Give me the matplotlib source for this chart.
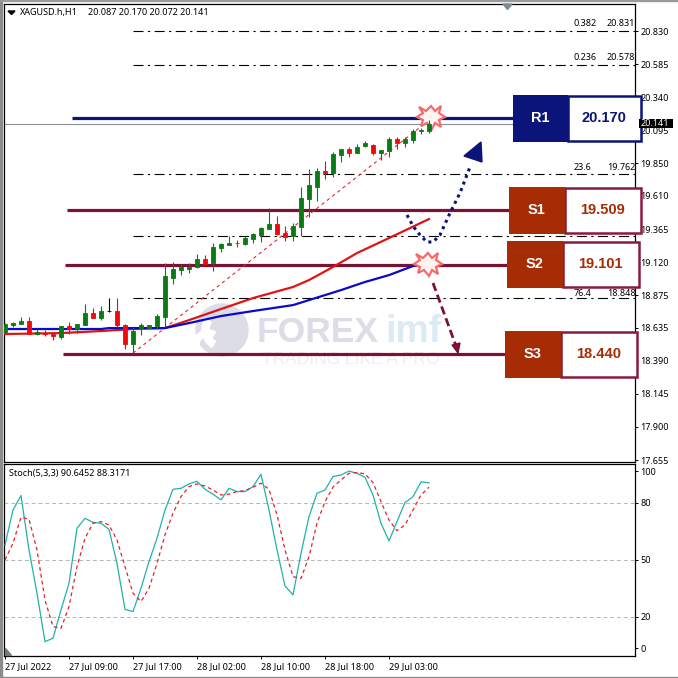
import matplotlib
matplotlib.use('Agg')
import matplotlib.pyplot as plt
from matplotlib.patches import Polygon, Rectangle, Circle, Wedge

plt.rcParams['font.family'] = ['Noto Sans', 'DejaVu Sans']

# hourly candles, one row per bar
opens = [18.603, 18.655, 18.662, 18.685, 18.588, 18.595, 18.588, 18.566, 18.648, 18.625,
         18.655, 18.744, 18.707, 18.759, 18.759, 18.655, 18.514, 18.633, 18.633, 18.648,
         18.713, 19.003, 19.062, 19.070, 19.085, 19.144, 19.114, 19.225, 19.247, 19.262,
         19.255, 19.292, 19.322, 19.366, 19.403, 19.336, 19.314, 19.379, 19.587, 19.677,
         19.796, 19.781, 19.913, 19.957, 19.928, 19.980, 19.987, 19.928, 19.943, 20.032,
         20.002, 20.024, 20.091, 20.087]
highs = [18.670, 18.677, 18.714, 18.714, 18.625, 18.618, 18.595, 18.648, 18.677, 18.662,
         18.811, 18.782, 18.796, 18.856, 18.856, 18.662, 18.640, 18.670, 18.655, 18.737,
         19.114, 19.122, 19.107, 19.114, 19.181, 19.174, 19.263, 19.262, 19.314, 19.284,
         19.314, 19.336, 19.381, 19.522, 19.463, 19.389, 19.411, 19.677, 19.811, 19.818,
         19.870, 19.937, 19.957, 19.972, 19.995, 20.017, 19.995, 19.950, 20.047, 20.047,
         20.047, 20.106, 20.114, 20.170]
lows = [18.595, 18.640, 18.662, 18.588, 18.580, 18.573, 18.543, 18.551, 18.588, 18.595,
        18.655, 18.707, 18.692, 18.752, 18.640, 18.476, 18.447, 18.580, 18.625, 18.625,
        18.638, 18.958, 19.025, 19.040, 19.077, 19.107, 19.055, 19.195, 19.247, 19.232,
        19.247, 19.262, 19.269, 19.366, 19.322, 19.277, 19.277, 19.312, 19.453, 19.572,
        19.736, 19.751, 19.861, 19.898, 19.928, 19.972, 19.913, 19.876, 19.898, 19.957,
        19.972, 20.002, 20.069, 20.072]
closes = [18.662, 18.670, 18.685, 18.588, 18.603, 18.588, 18.573, 18.648, 18.625, 18.662,
          18.744, 18.707, 18.759, 18.759, 18.655, 18.514, 18.610, 18.655, 18.655, 18.722,
          19.017, 19.070, 19.085, 19.085, 19.144, 19.107, 19.233, 19.255, 19.262, 19.259,
          19.299, 19.329, 19.374, 19.403, 19.329, 19.307, 19.389, 19.595, 19.692, 19.796,
          19.781, 19.922, 19.957, 19.928, 19.972, 20.002, 19.928, 19.950, 20.032, 20.002,
          20.032, 20.091, 20.099, 20.141]

# moving averages, read at the bars where they bend
blue_bars = [0, 12, 13, 20, 23, 27, 31, 36, 38, 42, 45, 48, 51]
blue_ma = [18.625, 18.625, 18.632, 18.632, 18.669, 18.721, 18.758, 18.802, 18.839, 18.913,
           18.973, 19.024, 19.091]
red_bars = [0, 7, 12, 16, 20, 23, 27, 31, 36, 38, 41, 44, 48, 53]
red_ma = [18.588, 18.595, 18.610, 18.625, 18.632, 18.691, 18.773, 18.854, 18.936, 18.987,
          19.084, 19.187, 19.298, 19.439]

# stochastic
stoch_main = [57.9, 76.3, 83.9, 55.3, 32.5, 7.0, 8.8, 23.7, 37.7, 66.7, 71.9, 69.8, 69.3, 66.1,
              48.2, 24.0, 22.8, 35.1, 49.1, 61.4, 76.3, 87.2, 87.7, 90.0, 91.4, 87.2, 84.6, 81.6,
              87.7, 86.0, 86.0, 88.6, 95.1, 76.3, 55.3, 36.3, 31.6, 53.5, 72.8, 85.1, 86.8, 93.9,
              94.7, 96.8, 95.6, 93.5, 84.2, 69.3, 60.0, 70.2, 80.2, 83.3, 91.1, 90.6]
stoch_signal = [50.0, 58.8, 72.5, 71.4, 55.3, 28.9, 14.9, 14.0, 25.4, 46.5, 61.4, 69.3, 70.2, 68.4,
                60.5, 46.5, 32.5, 28.1, 35.1, 48.2, 63.2, 74.6, 83.3, 88.6, 90.0, 88.9, 86.8, 84.2,
                84.6, 86.0, 86.5, 88.3, 90.4, 87.2, 73.7, 55.3, 41.2, 40.3, 51.7, 69.3, 80.7, 88.3,
                92.1, 95.6, 96.0, 95.3, 90.7, 80.7, 71.0, 65.4, 68.4, 76.3, 84.2, 88.3]

price_ticks = [20.830, 20.585, 20.340, 20.095, 19.850, 19.610, 19.365, 19.120, 18.875, 18.635,
               18.390, 18.145, 17.900, 17.655]
date_bars = [0, 8, 16, 24, 32, 40, 48]
date_labels = ['27 Jul 2022', '27 Jul 09:00', '27 Jul 17:00', '28 Jul 02:00', '28 Jul 10:00',
               '28 Jul 18:00', '29 Jul 03:00']

fib_levels = [20.831, 20.578, 19.772, 19.313, 18.854]
level_names = ['R1', 'S1', 'S2', 'S3']
level_values = ['20.170', '19.509', '19.101', '18.440']
level_lines = [20.186, 19.505, 19.100, 18.440]
level_starts = [8.4, 7.8, 7.5, 7.3]

NAVY = '#0b1478'
MAROON = '#7b1233'
BROWN = '#a52c05'
GREEN = '#0a7a14'


def px_box(left, top, right, bottom):
    # axes rectangle from pixel edges of the 678 px image
    return [left / 678, 1 - bottom / 678, (right - left) / 678, (bottom - top) / 678]


fig = plt.figure(figsize=(6.78, 6.78), dpi=100)
ax = fig.add_axes(px_box(4, 4, 635, 462))
ax2 = fig.add_axes(px_box(4, 464, 635, 655.5))
ov = fig.add_axes([0, 0, 1, 1], zorder=10)
ov.set_xlim(0, 678)
ov.set_ylim(678, 0)
ov.axis('off')
ov.patch.set_alpha(0)

# bars are 8 px apart, first one 1 px right of the spine
xlim = (-1 / 8, 630 / 8)
ax.set_xlim(xlim)
ax.set_ylim(17.641, 21.030)
ax2.set_xlim(xlim)
ax2.set_ylim(-0.3, 100.5)

# watermark, sits under everything
ax.add_patch(Circle((222, 330), 26, color='#dcdde6', transform=ov.transData, zorder=1))
ax.add_patch(Wedge((222, 330), 20, 120, 215, width=7, color='white', transform=ov.transData, zorder=1))
ax.add_patch(Wedge((208, 345), 15, 180, 300, width=6, color='white', transform=ov.transData, zorder=1))
ax.text(257, 332, 'FOREX', transform=ov.transData, family='Liberation Sans', weight='bold',
        fontsize=25.5, color='#dcdde6', va='center', ha='left', zorder=1)
ax.text(385, 332, 'imf', transform=ov.transData, family='Liberation Sans', weight='bold',
        fontsize=27, color='#dbeaf3', va='center', ha='left', zorder=1)
ax.text(262, 359, 'TRADING LIKE A PRO', transform=ov.transData, family='Liberation Sans',
        fontsize=12.5, color='#eeeef2', va='center', ha='left', zorder=1)

# fibonacci levels
ax.hlines(fib_levels, 16, xlim[1], color='black', lw=0.8, linestyles=(0, (9, 4, 2, 4)), zorder=2)
ax.axhline(closes[-1], color='#8a8f96', lw=0.8, zorder=2)

# support and resistance lines
for k in range(4):
    ax.hlines(level_lines[k], level_starts[k], 64, color=NAVY if k == 0 else MAROON, lw=2.3, zorder=3)

# fib base line, low of the swing to the last high
ax.plot([16, 53], [lows[16], highs[53]], color='#e8252d', lw=0.8, ls=(0, (3, 3)), zorder=3)

ax.plot(red_bars, red_ma, color='#e01414', lw=1.6, zorder=3)
ax.plot(blue_bars, blue_ma, color='#0a0acb', lw=1.6, zorder=3)

# explosion marks
star_dx = [0, 4, 10, 8, 14, 8, 10, 4, 1, -4, -10, -8, -14, -8, -12, -5]
star_dy = [-11, -6, -11, -4, 0, 3, 10, 6, 12, 6, 9, 3, 0, -4, -10, -6]
for cx, cy in [(431, 117), (428, 264)]:
    pts = [(cx + a, cy + b) for a, b in zip(star_dx, star_dy)]
    ax.add_patch(Polygon(pts, closed=True, facecolor='#fff4f2', edgecolor='#f26c6c', lw=1.6,
                         transform=ov.transData, zorder=4))

# candles
for i in range(len(opens)):
    if closes[i] > opens[i]:
        col = GREEN
    elif closes[i] < opens[i]:
        col = '#f00a0a'
    else:
        col = 'black'
    ax.vlines(i, lows[i], highs[i], color=col, lw=0.8, zorder=5)
    ax.bar(i, abs(closes[i] - opens[i]), bottom=min(opens[i], closes[i]), width=0.6, color=col,
           edgecolor=col, linewidth=0.6, zorder=5)

ax.set_xticks([])
ax.yaxis.tick_right()
ax.set_yticks(price_ticks)
ax.set_yticklabels(['%.3f' % p for p in price_ticks])
ax.tick_params(axis='y', length=2.5, width=0.7, labelsize=6.5, pad=1.5)

# stochastic panel
for lev in [80, 50, 20]:
    ax2.axhline(lev, color='#b5b5b5', lw=0.7, ls=(0, (4, 3)), zorder=1)
ax2.plot(range(len(stoch_main)), stoch_main, color='#20b2aa', lw=0.9, zorder=3)
ax2.plot(range(len(stoch_signal)), stoch_signal, color='#e8202a', lw=0.9, ls=(0, (3, 2.5)), zorder=4)
ax2.yaxis.tick_right()
ax2.set_yticks([96.8, 80, 50, 20, 3.6])
ax2.set_yticklabels(['100', '80', '50', '20', '0'])
ax2.tick_params(axis='y', length=2.5, width=0.7, labelsize=6.5, pad=1.5)
ax2.set_xticks(date_bars)
ax2.set_xticklabels(date_labels)
ax2.tick_params(axis='x', length=2.5, width=0.7, labelsize=6.5, pad=2)
for lab in ax2.get_xticklabels():
    lab.set_ha('left')
for a in (ax, ax2):
    for s in a.spines.values():
        s.set_linewidth(0.9)

# labels on the chart
ov.text(20, 12.5, 'XAGUSD.h,H1', fontsize=6.5, va='center')
ov.text(88, 12.5, '%.3f %.3f %.3f %.3f' % (opens[-1], highs[-1], lows[-1], closes[-1]), fontsize=6.5, va='center')
ov.add_patch(Polygon([(8, 11), (15, 11), (11.5, 14.5)], color='black'))
ov.add_patch(Polygon([(503, 4), (512, 4), (507.5, 9.5)], color='#7f8a90'))
ov.add_patch(Polygon([(5, 648), (5, 655), (11, 655)], color='#6f7a80'))
ov.text(9, 473.5, 'Stoch(5,3,3) %.4f %.4f' % (90.6452, 88.3171), fontsize=6.5, va='center')

fib_labels = [('0.382', '20.831', 24), ('0.236', '20.578', 58), ('23.6', '19.762', 168), ('76.4', '18.848', 293)]
for name, val, yy in fib_labels:
    ov.text(574, yy, name, fontsize=6.5, va='center')
    ov.text(607, yy, val, fontsize=6.5, va='center')

# level boxes: left, top, right, bottom, divider in pixels
boxes = [(513, 96, 640.5, 141, 568), (509, 188, 640.5, 233, 564.5),
         (507, 242, 638.5, 286.5, 562.5), (505, 332, 636.5, 376.5, 560.5)]
for k, (l, t, r, b, d) in enumerate(boxes):
    fill = NAVY if k == 0 else BROWN
    edge = NAVY if k == 0 else '#8a1a3c'
    txt = NAVY if k == 0 else BROWN
    ov.add_patch(Rectangle((d, t), r - d, b - t, facecolor='white', edgecolor=edge, lw=1.8))
    ov.add_patch(Rectangle((l, t - 1), d - l, b - t + 2, facecolor=fill, edgecolor='none'))
    ov.text((l + d) / 2, (t + b) / 2, level_names[k], family='Liberation Sans', weight='bold',
            fontsize=10.5, color='white', ha='center', va='center')
    ov.text((d + r) / 2, (t + b) / 2, level_values[k], family='Liberation Sans', weight='bold',
            fontsize=10.5, color=txt, ha='center', va='center')

# price tag
ov.add_patch(Rectangle((639, 119), 34, 9, facecolor='black', edgecolor='none'))
ov.text(641, 123.5, '%.3f' % closes[-1], fontsize=6.5, color='white', va='center')

# arrows
path_x = [407, 413, 420, 427, 433, 440, 450, 460, 470]
path_y = [215, 226, 235, 242, 242, 235, 213, 193, 167]
ov.plot(path_x, path_y, color=NAVY, lw=2.2, ls=(0, (1, 1.3)))
ov.add_patch(Polygon([(481, 142), (464, 156), (482, 162)], color=NAVY))
ov.plot([433, 456], [283, 346], color=MAROON, lw=2, ls=(0, (3, 1.5)))
ov.add_patch(Polygon([(452, 345), (460, 343), (458, 353)], color=MAROON))

# window frame
ov.add_patch(Rectangle((0, 0), 1.5, 678, color='#8c8c8c'))
ov.add_patch(Rectangle((0, 0), 678, 1.2, color='#9a9a9a'))
ov.add_patch(Rectangle((0, 676.8), 678, 1.2, color='#8c8c8c'))

fig.savefig('out.png', dpi=100)
